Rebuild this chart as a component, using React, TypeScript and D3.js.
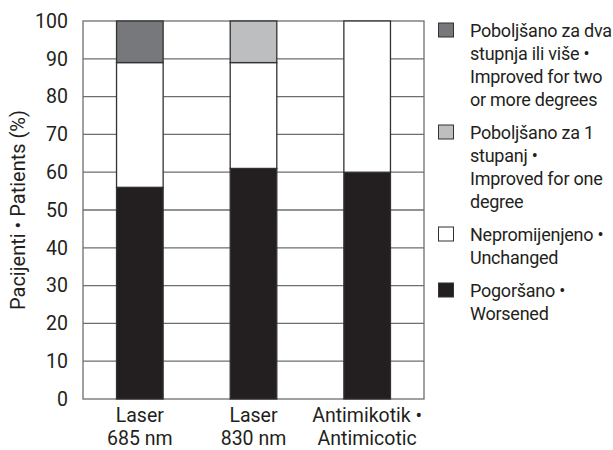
import { useEffect, useRef } from 'react';
import * as d3 from 'd3';

// Categories (two-line labels under the bars)
const categories = ['Laser 685 nm', 'Laser 830 nm', 'Antimikotik • Antimicotic'];
const categoryLines = [
  ['Laser', '685 nm'],
  ['Laser', '830 nm'],
  ['Antimikotik •', 'Antimicotic'],
];

// Stacked series, bottom to top (% of patients)
const worsened = [56, 61, 60];
const unchanged = [33, 28, 40];
const improvedOne = [0, 11, 0];
const improvedTwo = [11, 0, 0];

const yTicks = [0, 10, 20, 30, 40, 50, 60, 70, 80, 90, 100];

const seriesKeys = ['worsened', 'unchanged', 'improvedOne', 'improvedTwo'] as const;
type Key = (typeof seriesKeys)[number];

const seriesColors: Record<Key, string> = {
  worsened: '#231f20',
  unchanged: '#ffffff',
  improvedOne: '#bcbec0',
  improvedTwo: '#77787b',
};

// Legend, top to bottom
const legendItems: { key: Key; lines: string[] }[] = [
  { key: 'improvedTwo', lines: ['Poboljšano za dva', 'stupnja ili više •', 'Improved for two', 'or more degrees'] },
  { key: 'improvedOne', lines: ['Poboljšano za 1', 'stupanj •', 'Improved for one', 'degree'] },
  { key: 'unchanged', lines: ['Nepromijenjeno •', 'Unchanged'] },
  { key: 'worsened', lines: ['Pogoršano •', 'Worsened'] },
];

const WIDTH = 613;
const HEIGHT = 450;
const FONT = 'Roboto, "Noto Sans", sans-serif';
const TEXT = '#231f20';
const GRID = '#6d6e71';

export default function App() {
  const svgRef = useRef<SVGSVGElement>(null);

  useEffect(() => {
    if (!svgRef.current) return;
    const svg = d3.select(svgRef.current);
    svg.selectAll('*').remove();

    const plot = { left: 83, right: 424, top: 21, bottom: 399 };

    const rows = categories.map((c, i) => ({
      category: c,
      worsened: worsened[i],
      unchanged: unchanged[i],
      improvedOne: improvedOne[i],
      improvedTwo: improvedTwo[i],
    }));

    const x = d3
      .scaleBand<string>()
      .domain(categories)
      .range([plot.left, plot.right])
      .paddingInner(0.59)
      .paddingOuter(0.295);

    const y = d3.scaleLinear().domain([0, 100]).range([plot.bottom, plot.top]);

    // Grid lines
    svg
      .append('g')
      .selectAll('line')
      .data(yTicks.filter((t) => t > 0 && t < 100))
      .join('line')
      .attr('x1', plot.left)
      .attr('x2', plot.right)
      .attr('y1', (d) => y(d))
      .attr('y2', (d) => y(d))
      .attr('stroke', GRID)
      .attr('stroke-width', 1.3);

    // Frame
    svg
      .append('rect')
      .attr('x', plot.left)
      .attr('y', y(100))
      .attr('width', plot.right - plot.left)
      .attr('height', y(0) - y(100))
      .attr('fill', 'none')
      .attr('stroke', GRID)
      .attr('stroke-width', 1.3);

    // Stacked bars
    const stacked = d3.stack<(typeof rows)[number], Key>().keys(seriesKeys as unknown as Key[])(rows);
    stacked.forEach((layer) => {
      svg
        .append('g')
        .selectAll('rect')
        .data(layer.filter((d) => d[1] - d[0] > 0))
        .join('rect')
        .attr('x', (d) => x(d.data.category) ?? 0)
        .attr('y', (d) => y(d[1]))
        .attr('width', x.bandwidth())
        .attr('height', (d) => y(d[0]) - y(d[1]))
        .attr('fill', seriesColors[layer.key])
        .attr('stroke', '#333132')
        .attr('stroke-width', 1.3);
    });

    // Y tick labels
    svg
      .append('g')
      .selectAll('text')
      .data(yTicks)
      .join('text')
      .attr('x', 68)
      .attr('y', (d) => y(d))
      .attr('dy', '0.35em')
      .attr('text-anchor', 'end')
      .attr('fill', TEXT)
      .attr('font-family', FONT)
      .attr('font-size', '19.5px')
      .text((d) => d);

    // Y axis title
    svg
      .append('text')
      .attr('transform', 'rotate(-90)')
      .attr('x', -210)
      .attr('y', 25)
      .attr('text-anchor', 'middle')
      .attr('fill', TEXT)
      .attr('font-family', FONT)
      .attr('font-size', '20px')
      .text('Pacijenti • Patients (%)');

    // X labels
    categories.forEach((c, i) => {
      const cx = (x(c) ?? 0) + x.bandwidth() / 2;
      categoryLines[i].forEach((line, j) => {
        svg
          .append('text')
          .attr('x', cx)
          .attr('y', 422 + j * 23)
          .attr('text-anchor', 'middle')
          .attr('fill', TEXT)
          .attr('font-family', FONT)
          .attr('font-size', '19.5px')
          .text(line);
      });
    });

    // Legend
    const lineH = 23;
    const gap = 10;
    let baseline = 37;
    legendItems.forEach((item) => {
      svg
        .append('rect')
        .attr('x', 438.5)
        .attr('y', baseline - 14)
        .attr('width', 15)
        .attr('height', 14)
        .attr('fill', seriesColors[item.key])
        .attr('stroke', '#333132')
        .attr('stroke-width', 1);
      item.lines.forEach((line, j) => {
        svg
          .append('text')
          .attr('x', 470)
          .attr('y', baseline + j * lineH)
          .attr('fill', TEXT)
          .attr('font-family', FONT)
          .attr('font-size', '18px')
          .attr('letter-spacing', '-0.25px')
          .text(line);
      });
      baseline += item.lines.length * lineH + gap;
    });
  }, []);

  return (
    <svg
      ref={svgRef}
      width={WIDTH}
      height={HEIGHT}
      style={{ position: 'absolute', left: 0, top: 0, background: '#fff' }}
    />
  );
}
